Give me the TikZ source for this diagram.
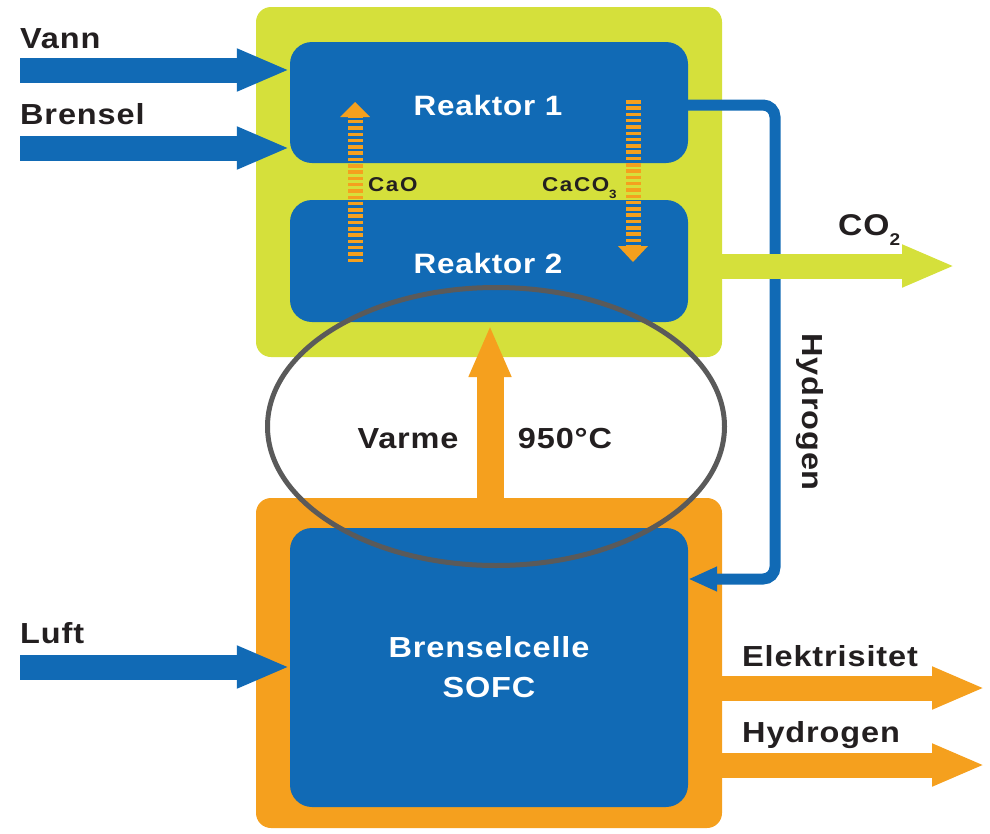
\documentclass[tikz,border=0pt]{standalone}
\usepackage{fontspec}
\setmainfont{Liberation Sans}[FakeStretch=1.12,LetterSpace=3]
\usetikzlibrary{arrows.meta,shapes.geometric}
\definecolor{cblue}{HTML}{116AB5}
\definecolor{clime}{HTML}{D5E03B}
\definecolor{corange}{HTML}{F5A01E}
\definecolor{ctext}{HTML}{231F20}
\definecolor{cgray}{HTML}{5A5A5A}
\begin{document}
\begin{tikzpicture}[x=1pt,y=-1pt,
  lbl/.style={font=\fontsize{29}{34}\selectfont\bfseries, text=ctext, inner sep=0pt},
  wlbl/.style={font=\fontsize{28}{34}\selectfont\bfseries, text=white, inner sep=0pt},
  slbl/.style={font=\fontsize{20}{22}\selectfont\bfseries\addfontfeatures{LetterSpace=8}, text=ctext, inner sep=0pt},
  outerbox/.style={rounded corners=15pt, minimum width=466pt, inner sep=0pt},
  reactor/.style={fill=cblue, rounded corners=22pt, minimum width=398pt, inner sep=0pt},
  bigin/.style={cblue, line width=25pt, -{Triangle[length=53pt,width=39pt]}},
  bigout/.style={line width=25pt, -{Triangle[length=53pt,width=39pt]}},
  dashbar/.style={corange, line width=15pt, dash pattern=on 3.5pt off 2.8pt},
  hline/.style={cblue, line width=11pt, rounded corners=12pt, -{Triangle[length=29pt,width=23pt]}}
]
\useasboundingbox (0,0) rectangle (990,833);
% outer boxes
\node[outerbox, fill=clime, minimum height=350pt] (gbox) at (489,182) {};
\node[outerbox, fill=corange, minimum height=330pt] (obox) at (489,663) {};
% inner boxes
\node[reactor, minimum height=121pt] (r1) at (489,102.5) {};
\node[reactor, minimum height=122pt] (r2) at (489,261) {};
\node[reactor, minimum height=279pt] (bc) at (489,667.5) {};
% texts inside
\node[wlbl, anchor=base] (r1t) at (488,115) {Reaktor 1};
\node[wlbl, anchor=base] (r2t) at (488,273) {Reaktor 2};
\node[wlbl, anchor=base, font=\fontsize{29}{34}\selectfont\bfseries] (bct1) at (489,657) {Brenselcelle};
\node[wlbl, anchor=base, font=\fontsize{29}{34}\selectfont\bfseries] (bct2) at (489,697) {SOFC};
% dashed orange arrows (CaO up, CaCO3 down)
\coordinate (cao0) at (355,262);
\coordinate (cao1) at (355,117);
\coordinate (caotip) at (355,102);
\draw[dashbar] (cao0) -- (cao1);
\fill[corange] (340,117) -- (370,117) -- (caotip) -- cycle;
\coordinate (caco0) at (633,100);
\coordinate (caco1) at (633,246);
\coordinate (cacotip) at (633,262);
\draw[dashbar] (caco0) -- (caco1);
\fill[corange] (618,246) -- (648,246) -- (cacotip) -- cycle;
\node[slbl, anchor=base west] (caot) at (368,191) {CaO};
\node[slbl, anchor=base west] (cacot) at (542,191) {CaCO\raisebox{-7pt}{\fontsize{12}{12}\selectfont 3}};
% input arrows
\coordinate (vann0) at (20,70);
\coordinate (bren0) at (20,148);
\coordinate (luft0) at (20,667);
\draw[bigin] (vann0) -- (r1.west |- vann0);
\draw[bigin] (bren0) -- (r1.west |- bren0);
\draw[bigin] (luft0) -- (bc.west |- luft0);
\node[lbl, anchor=base west] (vannt) at (20,48) {Vann};
\node[lbl, anchor=base west] (brent) at (20,124) {Brensel};
\node[lbl, anchor=base west] (luftt) at (20,643) {Luft};
% hydrogen loop
\coordinate (hy) at (0,105);
\coordinate (hy2) at (0,579);
\draw[hline] (r1.east |- hy) -- (775,105) -- (775,579) -- (bc.east |- hy2);
\node[lbl, anchor=base, rotate=-90] (hydt) at (802,412) {Hydrogen};
% CO2 out
\coordinate (co2y) at (0,266);
\coordinate (co2end) at (955,266);
\draw[bigout, clime] (gbox.east |- co2y) -- (co2end);
\node[lbl, anchor=base west, font=\fontsize{30}{34}\selectfont\bfseries] (co2t) at (838,235) {CO\raisebox{-10pt}{\fontsize{17}{17}\selectfont 2}};
% outputs
\coordinate (ely) at (0,688);
\coordinate (elend) at (985,688);
\coordinate (h2y) at (0,765);
\coordinate (h2end) at (985,765);
\draw[bigout, corange] (obox.east |- ely) -- (elend);
\draw[bigout, corange] (obox.east |- h2y) -- (h2end);
\node[lbl, anchor=base west] (elt) at (742,666) {Elektrisitet};
\node[lbl, anchor=base west] (h2t) at (742,742) {Hydrogen};
% heat
\coordinate (heat0) at (490,498);
\coordinate (heat1) at (490,325);
\draw[corange, line width=27pt, -{Triangle[length=52pt,width=39pt]}] (heat0) -- (heat1);
\node[draw=cgray, line width=5pt, ellipse, minimum width=457pt, minimum height=278pt, inner sep=0pt] (ell) at (496,426.5) {};
\node[lbl, anchor=base] (varmet) at (408,448) {Varme};
\node[lbl, anchor=base] (tempt) at (565,448) {950°C};
\end{tikzpicture}
\end{document}
